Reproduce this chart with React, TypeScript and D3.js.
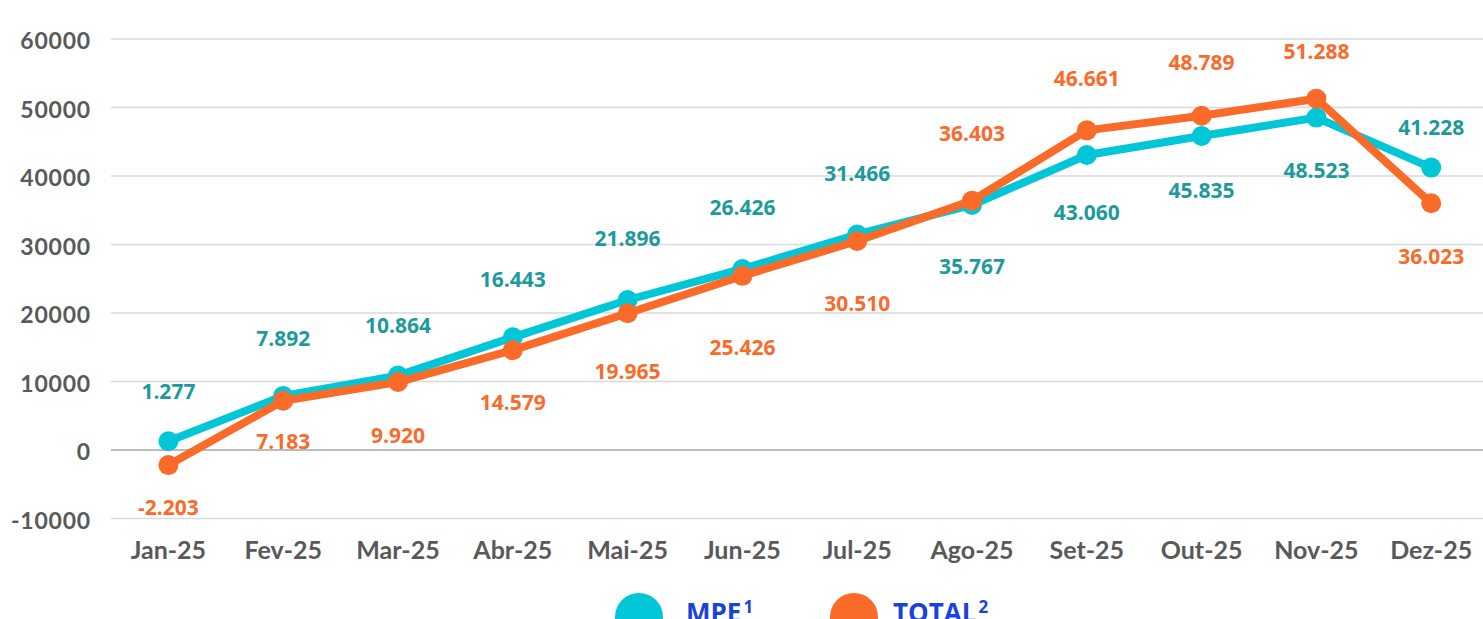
import React, { useEffect, useRef } from "react";
import * as d3 from "d3";

// data
const months = ["Jan-25", "Fev-25", "Mar-25", "Abr-25", "Mai-25", "Jun-25", "Jul-25", "Ago-25", "Set-25", "Out-25", "Nov-25", "Dez-25"];
const mpe = [1277, 7892, 10864, 16443, 21896, 26426, 31466, 35767, 43060, 45835, 48523, 41228];
const total = [-2203, 7183, 9920, 14579, 19965, 25426, 30510, 36403, 46661, 48789, 51288, 36023];
const yTicks = [-10000, 0, 10000, 20000, 30000, 40000, 50000, 60000];

// label placement (vertical shift from the point, px)
const mpeLabelDy = [-50, -58, -51, -58, -62, -62, -61, 61, 57, 54, 52, -41];
const totalLabelDy = [42, 40, 53, 52, 58, 71, 62, -68, -52, -54, -48, 53];

const W = 1483, H = 619;
const CYAN = "#00c6d8", ORANGE = "#fa6a28";
const CYAN_TXT = "#1e9a9c", ORANGE_TXT = "#f86b2b";

function fmt(v: number) {
  const s = Math.abs(v).toString().replace(/\B(?=(\d{3})+(?!\d))/g, ".");
  return (v < 0 ? "-" : "") + s;
}

export default function App() {
  const ref = useRef<SVGSVGElement>(null);

  useEffect(() => {
    const svg = d3.select(ref.current);
    svg.selectAll("*").remove();

    const left = 111, right = 111 + 12 * 114.8;
    const x = d3.scaleBand().domain(months).range([left, right]);
    const y = d3.scaleLinear().domain([-10000, 60000]).range([518.5, 39]);
    const cx = (m: string) => (x(m) as number) + x.bandwidth() / 2;

    // grid
    svg.append("g").selectAll("line").data(yTicks).join("line")
      .attr("x1", left).attr("x2", W)
      .attr("y1", d => y(d)).attr("y2", d => y(d))
      .attr("stroke", d => (d === 0 ? "#a6a6a6" : "#d9d9d9"))
      .attr("stroke-width", 1.5);

    // y axis labels
    svg.append("g").selectAll("text").data(yTicks).join("text")
      .attr("x", 91).attr("y", d => y(d) + 1)
      .attr("text-anchor", "end").attr("dominant-baseline", "central")
      .style("font-family", "Lato").style("font-weight", 700).style("font-size", "23px")
      .style("letter-spacing", "0.8px")
      .attr("fill", "#595959")
      .text(d => d);

    // x axis labels
    svg.append("g").selectAll("text").data(months).join("text")
      .attr("x", d => cx(d)).attr("y", 549)
      .attr("text-anchor", "middle").attr("dominant-baseline", "central")
      .style("font-family", "Lato").style("font-weight", 700).style("font-size", "25px")
      .attr("fill", "#595959")
      .text(d => d);

    const series = [
      { vals: mpe, color: CYAN, txt: CYAN_TXT, dy: mpeLabelDy },
      { vals: total, color: ORANGE, txt: ORANGE_TXT, dy: totalLabelDy },
    ];

    const line = d3.line<number>()
      .x((_, i) => cx(months[i]))
      .y(d => y(d));

    series.forEach(s => {
      const g = svg.append("g");
      g.append("path").datum(s.vals)
        .attr("d", line)
        .attr("fill", "none").attr("stroke", s.color)
        .attr("stroke-width", 8).attr("stroke-linejoin", "round");
      g.selectAll("circle").data(s.vals).join("circle")
        .attr("cx", (_, i) => cx(months[i])).attr("cy", d => y(d))
        .attr("r", 10).attr("fill", s.color);
    });

    series.forEach(s => {
      svg.append("g").selectAll("text").data(s.vals).join("text")
        .attr("x", (_, i) => cx(months[i])).attr("y", (d, i) => y(d) + s.dy[i])
        .attr("text-anchor", "middle").attr("dominant-baseline", "central")
        .style("font-family", "'Open Sans'").style("font-weight", 700).style("font-size", "21px")
        .attr("fill", s.txt)
        .text(d => fmt(d));
    });

    // legend
    const legend = [
      { name: "MPE", sup: "1", color: CYAN, cx: 639, tx: 686 },
      { name: "TOTAL", sup: "2", color: ORANGE, cx: 854, tx: 893 },
    ];
    legend.forEach(l => {
      svg.append("circle").attr("cx", l.cx).attr("cy", 617).attr("r", 24).attr("fill", l.color);
      const t = svg.append("text").attr("x", l.tx).attr("y", 622)
        .style("font-family", "'Open Sans'").style("font-weight", 700).style("font-size", "26px")
        .attr("fill", "#1a44d8");
      t.append("tspan").text(l.name);
      t.append("tspan").attr("dy", -9).attr("dx", 2).style("font-size", "17px").text(l.sup);
    });
  }, []);

  return (
    <svg ref={ref} width={W} height={H}
      style={{ position: "absolute", left: 0, top: 0, display: "block", background: "#fff" }} />
  );
}
